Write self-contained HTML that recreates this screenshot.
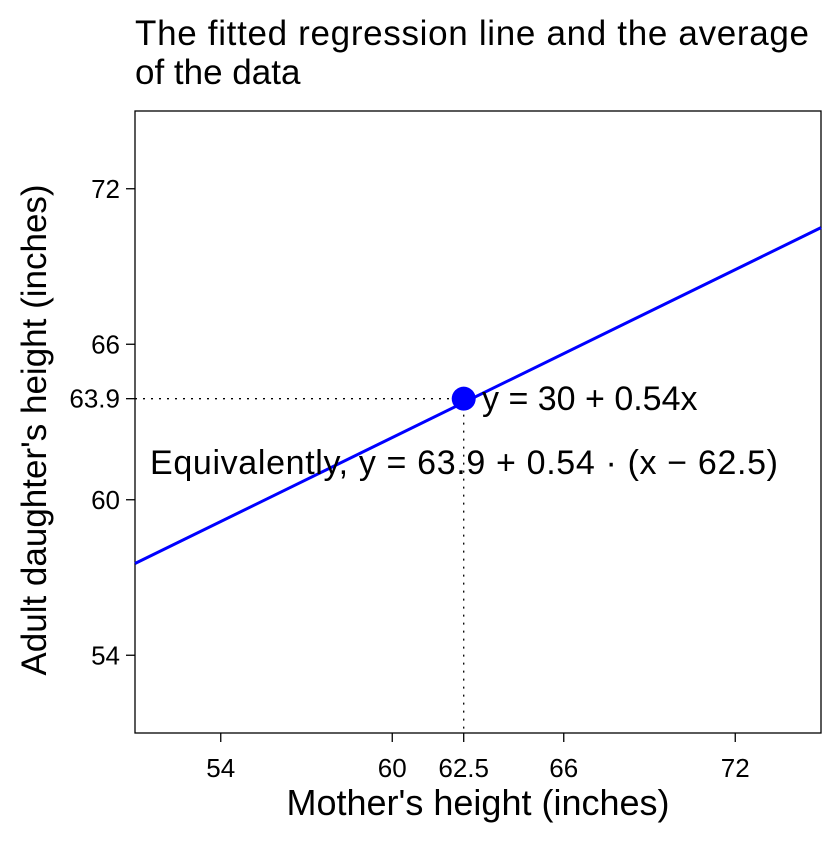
<!DOCTYPE html>
<html><head><meta charset="utf-8"><style>
body{margin:0;background:#fff}
text{font-family:"Liberation Sans",Arial,sans-serif;fill:#000}
</style></head><body>
<svg id="chart" width="840" height="840" viewBox="0 0 840 840">
<text x="135" y="45" font-size="35" textLength="674">The fitted regression line and the average</text>
<text x="135" y="84" font-size="35">of the data</text>
<rect x="135" y="111" width="686" height="622" fill="none" stroke="#000" stroke-width="1.3"/>
<g id="ticks"></g>
<g id="marks"></g>
<text x="478" y="815" font-size="36" text-anchor="middle">Mother's height (inches)</text>
<text transform="translate(46,430) rotate(-90)" font-size="35" text-anchor="middle">Adult daughter's height (inches)</text>
<text x="482" y="410" font-size="34">y = 30 + 0.54x</text>
<text x="150" y="474" font-size="34" textLength="628">Equivalently, y = 63.9 + 0.54 · (x − 62.5)</text>
</svg>
<script>
const xTicks=[54,60,62.5,66,72];
const yTicks=[54,60,63.9,66,72];
const intercept=[30];
const slope=[0.54];
const meanPoint=[62.5,63.9];
const xDomain=[51,75], yDomain=[51,75];
const L=135,R=821,T=111,B=733;
const sx=v=>L+(v-xDomain[0])/(xDomain[1]-xDomain[0])*(R-L);
const sy=v=>B-(v-yDomain[0])/(yDomain[1]-yDomain[0])*(B-T);
const NS="http://www.w3.org/2000/svg";
const tg=document.getElementById('ticks'), mg=document.getElementById('marks');
function mk(tag,attrs,parent){const e=document.createElementNS(NS,tag);for(const k in attrs)e.setAttribute(k,attrs[k]);parent.appendChild(e);return e;}
xTicks.forEach(v=>{
 const l=mk('line',{x1:sx(v),x2:sx(v),y1:B,y2:B+9,stroke:'#000','stroke-width':1.3},tg);
 
 
 const t=mk('text',{x:sx(v),y:B+44,'font-size':26,'text-anchor':'middle'},tg);t.textContent=String(v);
 
 
});
yTicks.forEach(v=>{
 const l=mk('line',{x1:L-9,x2:L,y1:sy(v),y2:sy(v),stroke:'#000','stroke-width':1.3},tg);
 
 
 const t=mk('text',{x:L-15,y:sy(v)+9,'font-size':26,'text-anchor':'end'},tg);t.textContent=String(v);
 
 
});
const px=sx(meanPoint[0]), py=sy(meanPoint[1]);
const h=mk('line',{x1:L,x2:px,y1:py,y2:py,stroke:'#000','stroke-width':1.3,'stroke-dasharray':'2 6'},mg);


const v=mk('line',{x1:px,x2:px,y1:py,y2:B,stroke:'#000','stroke-width':1.3,'stroke-dasharray':'2 6'},mg);


const f=x=>intercept[0]+slope[0]*x;
const rl=mk('line',{x1:sx(xDomain[0]),y1:sy(f(xDomain[0])),x2:sx(xDomain[1]),y2:sy(f(xDomain[1])),stroke:'#0000ff','stroke-width':3},mg);


const c=mk('circle',{cx:px,cy:py,r:12,fill:'#0000ff'},mg);


</script>
</body></html>
